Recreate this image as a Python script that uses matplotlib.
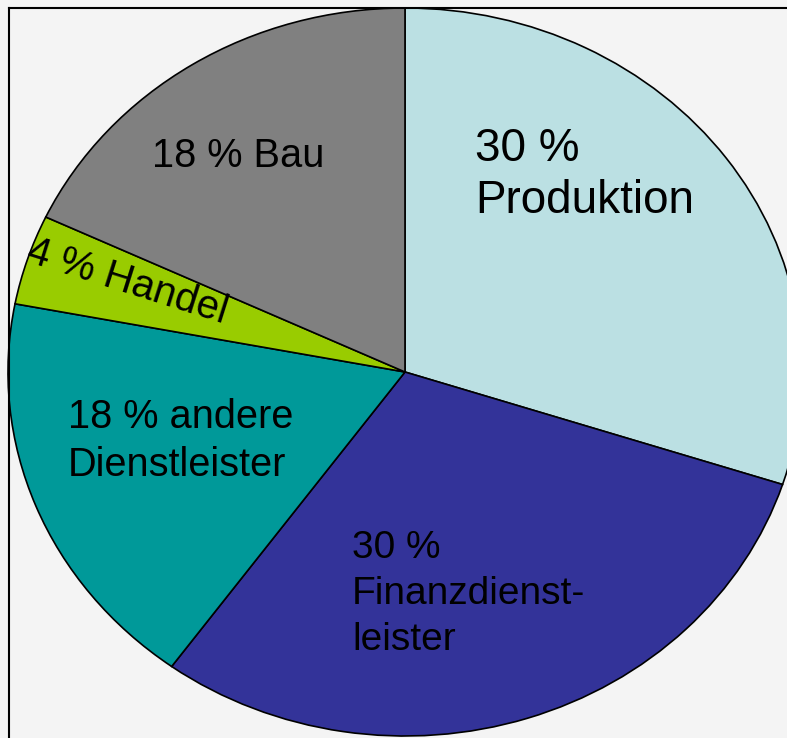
import matplotlib
matplotlib.use("Agg")
import matplotlib.pyplot as plt
from matplotlib.lines import Line2D

plt.rcParams['font.family'] = ['Liberation Sans', 'DejaVu Sans']

# data
sektoren = ["Produktion", "Finanzdienstleister", "andere Dienstleister", "Handel", "Bau"]
anteile = [30, 30, 18, 4, 18]
farben = ["#bbe0e3", "#333399", "#009999", "#99cc00", "#808080"]
beschriftungen = ["30 %\nProduktion", "30 %\nFinanzdienst-\nleister",
                  "18 % andere\nDienstleister", "4 % Handel", "18 % Bau"]

W, H = 787, 738
cx, cy, rx, ry = 405, 372, 397, 364


def px(x, y):
    # pixel position -> data coords of the (stretched) pie
    return (x - cx) / rx, (cy - y) / ry


fig = plt.figure(figsize=(W / 100, H / 100), dpi=100, facecolor="#f4f4f4")
ax = fig.add_axes([0, 0, 1, 1])
ax.set_facecolor("#f4f4f4")

ax.pie(anteile, colors=farben, startangle=90, counterclock=False,
       radius=1, center=(0, 0), frame=False,
       wedgeprops=dict(edgecolor="black", linewidth=1.2))
ax.set_aspect("auto")
ax.set_xlim(-cx / rx, (W - cx) / rx)
ax.set_ylim((cy - H) / ry, cy / ry)
ax.axis("off")

# Rahmen (links und oben sichtbar)
fig.add_artist(Line2D([8.5 / W, 8.5 / W], [0, 1 - 7.5 / H], transform=fig.transFigure,
                      color="black", lw=1.5))
fig.add_artist(Line2D([8.5 / W, 1], [1 - 7.5 / H, 1 - 7.5 / H], transform=fig.transFigure,
                      color="black", lw=1.5))

# Beschriftungen: x, y (Pixel), Schriftgröße, Drehung, Zeilenabstand
pos = [(475, 175, 33, 0, 1.22),
       (352, 594, 28, 0, 1.36),
       (68, 441, 28.6, 0, 1.36),
       (28, 251, 29, -17.5, 1.0),
       (152, 156, 28.6, 0, 1.0)]
for text, (x, y, fs, rot, ls) in zip(beschriftungen, pos):
    tx, ty = px(x, y)
    ax.text(tx, ty, text, fontsize=fs, ha="left", va="center", rotation=rot,
            rotation_mode="anchor", linespacing=ls, color="black")

fig.savefig("out.png", dpi=100, facecolor=fig.get_facecolor())
